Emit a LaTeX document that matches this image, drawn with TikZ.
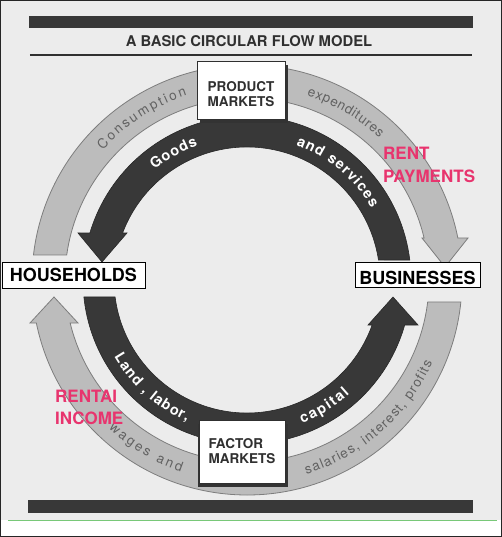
\documentclass[tikz,border=0pt]{standalone}
\usepackage{fontspec}
\setmainfont{TeX Gyre Heros}
\usetikzlibrary{decorations.text,shadows}

\definecolor{scanbg}{RGB}{236,236,236}
\definecolor{darkring}{RGB}{56,56,56}
\definecolor{lightring}{RGB}{188,188,188}
\definecolor{ringedge}{RGB}{125,125,125}
\definecolor{printgray}{RGB}{48,48,48}
\definecolor{hotpink}{RGB}{232,52,110}
\definecolor{pagegreen}{RGB}{120,200,120}

\newcommand{\innertext}{\color{white}\bfseries\fontsize{14.5}{16}\selectfont}
\newcommand{\outertext}{\color{black!62}\fontsize{13.5}{15}\selectfont}

\begin{document}
\begin{tikzpicture}[x=1pt,y=1pt,
    market/.style={draw=printgray, line width=0.8pt, fill=white, inner sep=0pt,
      text=printgray, font=\bfseries\fontsize{13.5}{15}\selectfont,
      drop shadow={shadow xshift=3pt, shadow yshift=-4pt, fill=black!80, opacity=1}},
    sector/.style={draw=black, line width=0.8pt, fill=white, inner sep=0pt,
      font=\bfseries\fontsize{18}{20}\selectfont},
    pinknote/.style={anchor=west, align=left, inner sep=0pt, text=hotpink,
      font=\bfseries\fontsize{17}{22.5}\selectfont},
    darkarrow/.style={fill=darkring, draw=darkring!70!black, line width=0.6pt},
    lightarrow/.style={fill=lightring, draw=ringedge, line width=0.8pt},
    ringtext/.style={decorate, decoration={text along path, text align={fit to path}, text={#1}}}]

  \useasboundingbox (-247,-257) rectangle (255,280);
  \fill[white] (-247,-257) rectangle (255,280);
  \fill[scanbg] (-247,-240) rectangle (255,280);

  % heading
  \fill[darkring] (-218,252) rectangle (226,264);
  \node[inner sep=0pt, text=printgray, font=\bfseries\fontsize{14.8}{16}\selectfont] (title) at (2,238.5) {A BASIC CIRCULAR FLOW MODEL};
  \draw[printgray, line width=1.2pt] (-217,225) -- (225,225);

  % goods and services, then land labor capital
  \filldraw[darkarrow] (8.65:133) -- (7:164) arc[start angle=7, end angle=163.35, radius=164]
    -- (-169,47) -- (-145,18) -- (-120,47)
    -- (159.31:133) arc[start angle=159.31, end angle=8.65, radius=133] -- cycle;
  \filldraw[darkarrow] (187.34:133) -- (185.95:164) arc[start angle=185.95, end angle=344.07, radius=164]
    -- (171,-45) -- (146,-17) -- (121,-45)
    -- (340.22:133) arc[start angle=340.22, end angle=187.34, radius=133] -- cycle;

  % money flows
  \filldraw[lightarrow] (172.10:182) -- (173.32:215) arc[start angle=173.32, end angle=11.27, radius=215]
    -- (221,42) -- (198,13) -- (175,42)
    -- (13.34:182) arc[start angle=13.34, end angle=172.10, radius=182] -- cycle;
  \filldraw[lightarrow] (-6.94:182) -- (-5.87:215) arc[start angle=-5.87, end angle=-168.46, radius=215]
    -- (-217,-43) -- (-193,-17) -- (-169,-43)
    -- (-166.33:182) arc[start angle=-166.33, end angle=-6.94, radius=182] -- cycle;

  \path[ringtext={|\outertext|Consumption}] (138:194) arc[start angle=138, end angle=108, radius=194];
  \path[ringtext={|\outertext|expenditures}] (72:194) arc[start angle=72, end angle=47, radius=194];
  \path[ringtext={|\innertext|Goods}] (130:143.5) arc[start angle=130, end angle=110, radius=143.5];
  \path[ringtext={|\innertext|and services}] (70:143.5) arc[start angle=70, end angle=30, radius=143.5];
  \path[ringtext={|\innertext|Land , labor,}] (210:153.5) arc[start angle=210, end angle=247, radius=153.5];
  \path[ringtext={|\innertext|capital}] (291:153.5) arc[start angle=291, end angle=312, radius=153.5];
  \path[ringtext={|\outertext|wages and}] (227:203) arc[start angle=227, end angle=251, radius=203];
  \path[ringtext={|\outertext|salaries, interest, profits}] (287:203) arc[start angle=287, end angle=336, radius=203];

  \node[market, minimum width=88, minimum height=58, align=center, text height=33.7pt] (product) at (-6,190) {PRODUCT\\MARKETS};
  \node[market, minimum width=86, minimum height=63, align=left,
    drop shadow={shadow xshift=-1.5pt, shadow yshift=-4pt, fill=black!80, opacity=1}] (factor) at (-5,-171.5) {FACTOR\\MARKETS};

  \node[sector, minimum width=143, minimum height=26] (households) at (-173.5,5) {HOUSEHOLDS};
  \node[sector, minimum width=125, minimum height=25, text height=21pt, text depth=0pt, inner ysep=2pt] (businesses) at (170.5,5.5) {BUSINESSES};

  \node[pinknote] (rentpay) at (136,115) {RENT\\PAYMENTS};
  \node[pinknote] (rentinc) at (-192,-127.5) {RENTAI\\INCOME};

  \fill[darkring] (-219,-233) rectangle (226,-220);
  \draw[pagegreen, line width=1pt] (-239,-240) -- (250,-240);
  \draw[black!85, line width=1.5pt] (-246.25,-256.25) rectangle (254.25,279.25);
\end{tikzpicture}
\end{document}
